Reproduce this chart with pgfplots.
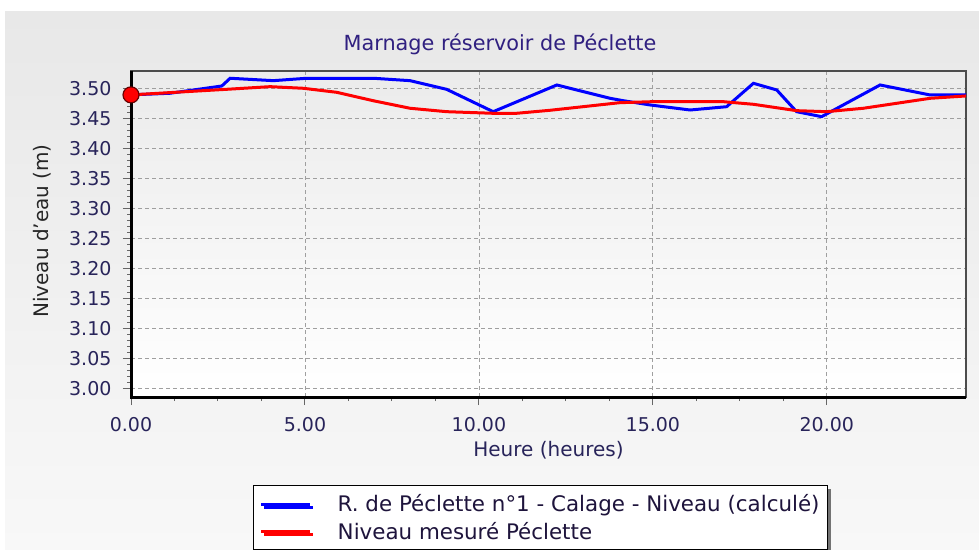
\documentclass[border=0pt]{standalone}
\usepackage{fontspec}
\setmainfont{DejaVu Sans}
\usepackage{pgfplots}
\pgfplotsset{compat=1.18}
\usetikzlibrary{shadows}
\definecolor{titlecol}{RGB}{48,32,128}
\definecolor{tickcol}{RGB}{40,36,90}
\definecolor{legcol}{RGB}{30,20,60}
\definecolor{panelTop}{RGB}{232,232,232}
\definecolor{panelBot}{RGB}{248,248,248}
\definecolor{plotTop}{RGB}{235,235,235}
\begin{document}
\begin{tikzpicture}
\path[use as bounding box] (0pt,0pt) rectangle (979pt,549pt);
\fill[white] (0pt,0pt) rectangle (979pt,549pt);
\shade[top color=panelTop, bottom color=panelBot] (5pt,0pt) rectangle (979pt,537pt);
\node[text=titlecol, font=\fontsize{20.8}{24}\selectfont] at (500pt,505pt) {Marnage réservoir de Péclette};
\begin{axis}[
  at={(131pt,152pt)}, anchor=south west,
  scale only axis, width=835pt, height=326pt,
  xmin=0, xmax=24, ymin=2.9855, ymax=3.5288,
  clip=false,
  axis background/.style={shade, top color=plotTop, bottom color=white},
  xtick={0,5,10,15,20}, minor x tick num=3,
  ytick={3.00,3.05,3.10,3.15,3.20,3.25,3.30,3.35,3.40,3.45,3.50}, minor y tick num=4,
  tick pos=left, tick align=outside,
  major tick length=8pt, minor tick length=4pt,
  every tick/.style={draw=gray!80!black, line width=1pt},
  grid=major, major grid style={draw=gray!75, line width=0.8pt, dash pattern=on 4pt off 3pt},
  axis line style={draw=black!70, line width=2pt},
  /pgf/number format/fixed, /pgf/number format/fixed zerofill, /pgf/number format/precision=2,
  /pgf/number format/assume math mode=true,
  tick label style={font=\fontsize{19}{22}\selectfont, text=tickcol},
  yticklabel style={xshift=-8pt},
  xticklabel style={yshift=-9pt},
  xlabel={Heure (heures)}, ylabel={Niveau d'eau (m)},
  label style={font=\fontsize{20}{24}\selectfont},
  x label style={at={(axis description cs:0.5,-0.1626)}, anchor=center, text=tickcol},
  y label style={at={(axis description cs:-0.1066,0.509)}, anchor=center, rotate=0, text=black!85},
  legend style={at={(axis description cs:0.1461,-0.2699)}, anchor=north west,
    draw=black, line width=1.5pt, fill=white,
    drop shadow={shadow xshift=3pt, shadow yshift=-3pt, fill=black!55, opacity=1},
    font=\fontsize{21.4}{24}\selectfont, text=legcol,
    inner xsep=6pt, inner ysep=7pt, row sep=5pt,
    /tikz/every odd column/.append style={column sep=24pt}},
  legend cell align=left,
  legend image code/.code={\draw[#1, line width=3pt] (0pt,0pt) -- (49pt,0pt);},
]
\addplot[blue, line width=3pt] coordinates {
(0,3.489) (1.12,3.4917) (2.61,3.5038) (2.85,3.5167) (4.09,3.5127) (5.05,3.5167)
(6.96,3.5167) (8.02,3.5127) (9.07,3.4983) (10.41,3.461) (12.24,3.5055) (13.77,3.4833)
(14.15,3.4793) (14.92,3.4722) (16.07,3.4638) (17.12,3.4693) (17.89,3.5083) (18.56,3.4972)
(19.13,3.461) (19.85,3.4527) (21.53,3.5055) (22.97,3.4888) (24,3.4888)
};
\addlegendentry{R. de Péclette n°1 - Calage - Niveau (calculé)}
\addplot[red, line width=3pt] coordinates {
(0,3.489) (2.75,3.4983) (4.0,3.5027) (4.95,3.50) (5.91,3.4933) (6.96,3.4793)
(8.02,3.4667) (9.07,3.461) (10.41,3.4583) (11.08,3.4583) (12.04,3.4633) (14.05,3.476)
(15.0,3.4777) (17.02,3.4777) (17.89,3.4733) (19.13,3.4627) (19.99,3.461) (21.05,3.4667)
(22.97,3.4833) (24,3.4872)
};
\addlegendentry{Niveau mesuré Péclette}
\draw[black, line width=3pt] (rel axis cs:0,1) -- (rel axis cs:0,0) -- (rel axis cs:1,0);
\addplot[only marks, mark=*, mark size=8pt, mark options={fill=red, draw=black!60!red, line width=1.2pt}, forget plot] coordinates {(0,3.489)};
\end{axis}
\end{tikzpicture}
\end{document}
